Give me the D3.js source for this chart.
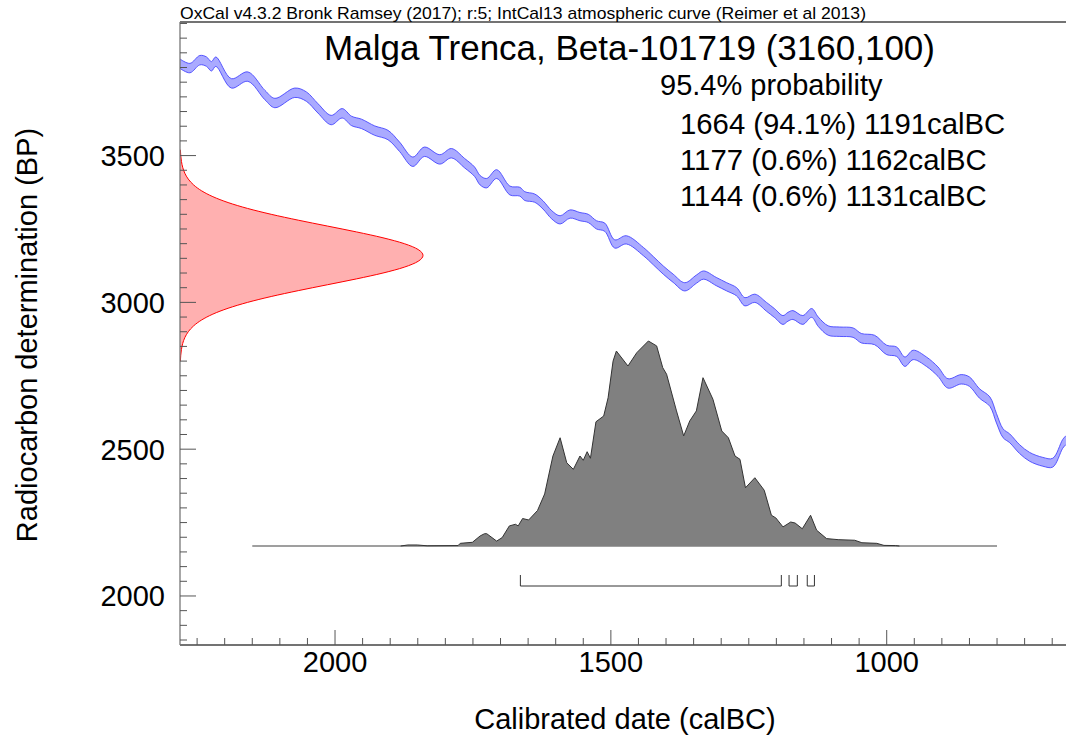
<!DOCTYPE html>
<html>
<head>
<meta charset="utf-8">
<script src="https://cdn.jsdelivr.net/npm/d3@7"></script>
<style>
  html, body { margin: 0; padding: 0; background: #fff; }
  svg { display: block; }
  text { font-family: "Liberation Sans", Arial, Helvetica, sans-serif; fill: #000; }
</style>
</head>
<body>
<svg id="chart" width="1066" height="742"></svg>
<script>
// ---------------- DATA ----------------
const headerText = "OxCal v4.3.2 Bronk Ramsey (2017); r:5; IntCal13 atmospheric curve (Reimer et al 2013)";
const titleText = "Malga Trenca, Beta-101719 (3160,100)";
const probabilityText = "95.4% probability";
const rangeLabels = ["1664 (94.1%) 1191calBC", "1177 (0.6%) 1162calBC", "1144 (0.6%) 1131calBC"];
const rangeFrom = [1664, 1177, 1144];
const rangeTo = [1191, 1162, 1131];
const xTickValues = [2000, 1500, 1000];
const yTickValues = [2000, 2500, 3000, 3500];
const xAxisTitle = "Calibrated date (calBC)";
const yAxisTitle = "Radiocarbon determination (BP)";

// IntCal13 calibration curve (calBC, BP mean, 1 sigma)
const curveYears = [2281,2263,2245,2233,2224,2216,2188,2158,2127,2109,
  2073,2052,2031,2007,1987,1970,1952,1928,1904,1883,
  1859,1838,1810,1789,1765,1747,1737,1725,1707,1683,
  1665,1656,1638,1623,1607,1592,1574,1556,1541,1526,
  1511,1493,1472,1441,1423,1405,1387,1366,1345,1332,
  1309,1290,1272,1257,1239,1218,1203,1188,1179,1170,
  1152,1136,1124,1106,1085,1061,1046,1022,1000,982,
  967,952,928,907,889,865,850,832,813,801,
  789,777,759,741,717,699,681,675];
const curveBP = [3813,3798,3825,3820,3804,3820,3746,3769,3706,3679,
  3714,3701,3661,3621,3644,3618,3608,3585,3570,3530,
  3479,3513,3487,3508,3474,3445,3416,3406,3437,3381,
  3377,3362,3355,3332,3298,3281,3301,3292,3286,3264,
  3256,3199,3213,3173,3142,3110,3082,3053,3079,3093,
  3071,3053,3036,3002,3014,2985,2963,2940,2951,2957,
  2940,2964,2934,2904,2900,2897,2878,2872,2838,2832,
  2798,2821,2798,2764,2724,2738,2730,2690,2662,2605,
  2554,2537,2500,2474,2457,2454,2518,2531];
const curveSigma = [16,16,16,16,16,16,16,16,16,16,
  16,16,16,16,16,16,16,16,16,16,
  16,16,16,16,16,16,16,16,15,15,
  15,15,14,14,14,14,14,14,14,14,
  14,14,14,14,14,14,14,14,14,14,
  14,14,14,14,14,15,15,15,15,15,
  15,15,16,16,16,16,16,16,16,16,
  16,16,16,16,16,16,16,16,16,16,
  15,15,15,15,15,15,15,15];

// Radiocarbon measurement likelihood (BP, relative density)
const measBP = [3520,3500,3480,3460,3440,3420,3400,3380,3360,3340,3320,3300,3280,3260,3240,3220,3200,3180,
  3160,3140,3120,3100,3080,3060,3040,3020,3000,2980,2960,2940,2920,2900,2880,2860,2840,2820,2800];
const measDensity = [0.0015,0.0031,0.0060,0.0111,0.0198,0.0340,0.0561,0.0889,0.1353,0.1979,0.2780,0.3753,0.4868,0.6065,0.7261,0.8353,0.9231,0.9802,
  1.0,0.9802,0.9231,0.8353,0.7261,0.6065,0.4868,0.3753,0.2780,0.1979,0.1353,0.0889,0.0561,0.0340,0.0198,0.0111,0.0060,0.0031,0.0015];

// Calibrated posterior (calBC, relative density x1000)
const postYears = [1881,1868,1851,1833,1777,1773,1751,1737,1729,1725,
  1707,1697,1684,1673,1668,1660,1649,1633,1620,1611,
  1605,1592,1580,1568,1556,1550,1543,1537,1527,1513,
  1505,1496,1490,1469,1453,1432,1417,1406,1399,1381,
  1368,1357,1345,1333,1315,1299,1287,1275,1266,1256,
  1239,1222,1209,1201,1188,1174,1166,1153,1138,1127,
  1109,1088,1058,1045,1018,1005,984,977];
const postDensity = [0,5,5,1,2,13,18,49,60,60,
  24,41,98,106,98,134,127,173,254,366,
  439,528,406,374,439,418,460,428,606,634,
  723,902,951,878,943,1000,976,870,838,659,
  537,610,659,821,716,561,528,439,423,284,
  333,272,150,137,93,117,112,84,150,77,
  36,31,28,16,13,3,2,0];
const postBaseline = [2150, 800];

// ---------------- LAYOUT ----------------
const W = 1066, H = 742;
const plotL = 180, plotR = 1066, plotT = 22, plotB = 645;
const svg = d3.select("#chart");

const x = d3.scaleLinear().domain([2281, 675]).range([plotL, plotR]);
const y = d3.scaleLinear().domain([1833, 3955]).range([plotB, plotT]);
const measW = d3.scaleLinear().domain([0, 1]).range([0, 243]);
const postBaseY = 546;
const postH = d3.scaleLinear().domain([0, 1000]).range([postBaseY, postBaseY - 205]);

svg.append("clipPath").attr("id", "plotclip")
  .append("rect").attr("x", plotL).attr("y", plotT).attr("width", plotR - plotL).attr("height", plotB - plotT);

const g = svg.append("g").attr("clip-path", "url(#plotclip)");

// calibration curve band
const curve = curveYears.map((d, i) => ({ yr: d, bp: curveBP[i], s: curveSigma[i] }));
const smooth = d3.curveCatmullRom.alpha(0.5);
g.append("path")
  .datum(curve)
  .attr("d", d3.area().x(d => x(d.yr)).y0(d => y(d.bp - d.s)).y1(d => y(d.bp + d.s)).curve(smooth))
  .attr("fill", "#aaaaff").attr("stroke", "none");
g.append("path").datum(curve)
  .attr("d", d3.line().x(d => x(d.yr)).y(d => y(d.bp + d.s)).curve(smooth))
  .attr("fill", "none").attr("stroke", "#4646ff").attr("stroke-width", 0.9);
g.append("path").datum(curve)
  .attr("d", d3.line().x(d => x(d.yr)).y(d => y(d.bp - d.s)).curve(smooth))
  .attr("fill", "none").attr("stroke", "#4646ff").attr("stroke-width", 0.9);

// measurement likelihood (red)
const meas = measBP.map((d, i) => ({ bp: d, p: measDensity[i] }));
g.append("path").datum(meas)
  .attr("d", d3.area().y(d => y(d.bp)).x0(plotL).x1(d => plotL + measW(d.p)).curve(d3.curveMonotoneY))
  .attr("fill", "#ffb0b0").attr("stroke", "none");
g.append("path").datum(meas)
  .attr("d", d3.line().y(d => y(d.bp)).x(d => plotL + measW(d.p)).curve(d3.curveMonotoneY))
  .attr("fill", "none").attr("stroke", "#ff0000").attr("stroke-width", 1);

// posterior baseline
g.append("line")
  .attr("x1", x(postBaseline[0])).attr("x2", x(postBaseline[1]))
  .attr("y1", postBaseY).attr("y2", postBaseY)
  .attr("stroke", "#404040").attr("stroke-width", 1.2);

// posterior distribution (grey)
const post = postYears.map((d, i) => ({ yr: d, p: postDensity[i] }));
g.append("path").datum(post)
  .attr("d", d3.area().x(d => x(d.yr)).y0(postBaseY).y1(d => postH(d.p)))
  .attr("fill", "#808080").attr("stroke", "none");
g.append("path").datum(post)
  .attr("d", d3.line().x(d => x(d.yr)).y(d => postH(d.p)))
  .attr("fill", "none").attr("stroke", "#333").attr("stroke-width", 1);

// 95.4% ranges brackets
const rangeY = 586, rangeTop = 575;
rangeFrom.forEach((f, i) => {
  const x1 = x(f), x2 = x(rangeTo[i]);
  g.append("path")
    .attr("d", `M${x1},${rangeTop}V${rangeY}H${x2}V${rangeTop}`)
    .attr("fill", "none").attr("stroke", "#333").attr("stroke-width", 1);
});

// ---------------- AXES ----------------
const axisColor = "#444";
svg.append("line").attr("x1", plotL).attr("x2", plotR).attr("y1", plotT).attr("y2", plotT).attr("stroke", axisColor).attr("stroke-width", 1.3);
svg.append("line").attr("x1", plotL).attr("x2", plotR).attr("y1", plotB).attr("y2", plotB).attr("stroke", axisColor).attr("stroke-width", 1.3);
svg.append("line").attr("x1", plotL).attr("x2", plotL).attr("y1", plotT).attr("y2", plotB).attr("stroke", "#777").attr("stroke-width", 1.3);

// x ticks (pointing up into plot)
const xMinor = d3.range(2250, 675, -50);
svg.append("g").selectAll("line").data(xMinor).join("line")
  .attr("x1", d => x(d)).attr("x2", d => x(d))
  .attr("y1", plotB).attr("y2", d => xTickValues.includes(d) ? plotB - 15 : plotB - 7)
  .attr("stroke", "#555").attr("stroke-width", 1);
svg.append("g").selectAll("text").data(xTickValues).join("text")
  .attr("x", d => x(d)).attr("y", 672)
  .attr("text-anchor", "middle").attr("font-size", 29)
  .text(d => d);

// y ticks (pointing right into plot)
const yMinor = d3.range(1850, 3955, 50);
svg.append("g").selectAll("line").data(yMinor).join("line")
  .attr("x1", plotL).attr("x2", d => yTickValues.includes(d) ? plotL + 16 : plotL + 7)
  .attr("y1", d => y(d)).attr("y2", d => y(d))
  .attr("stroke", "#555").attr("stroke-width", 1);
svg.append("g").selectAll("text").data(yTickValues).join("text")
  .attr("x", 165).attr("y", d => y(d) + 10.5)
  .attr("text-anchor", "end").attr("font-size", 29)
  .text(d => d);

// axis titles
svg.append("text").attr("x", 625).attr("y", 729).attr("text-anchor", "middle")
  .attr("font-size", 29).text(xAxisTitle);
svg.append("text").attr("transform", "translate(37,335) rotate(-90)").attr("text-anchor", "middle")
  .attr("font-size", 29).text(yAxisTitle);

// ---------------- TEXTS ----------------
svg.append("text").attr("x", 180).attr("y", 19).attr("font-size", 17)
  .attr("textLength", 686).attr("lengthAdjust", "spacingAndGlyphs").text(headerText);
svg.append("text").attr("x", 629.5).attr("y", 60).attr("text-anchor", "middle").attr("font-size", 35).text(titleText);
svg.append("text").attr("x", 660).attr("y", 95).attr("font-size", 29).text(probabilityText);
rangeLabels.forEach((t, i) => {
  svg.append("text").attr("x", 680).attr("y", 134 + i * 36).attr("font-size", 29.3).text(t);
});
</script>
</body>
</html>
